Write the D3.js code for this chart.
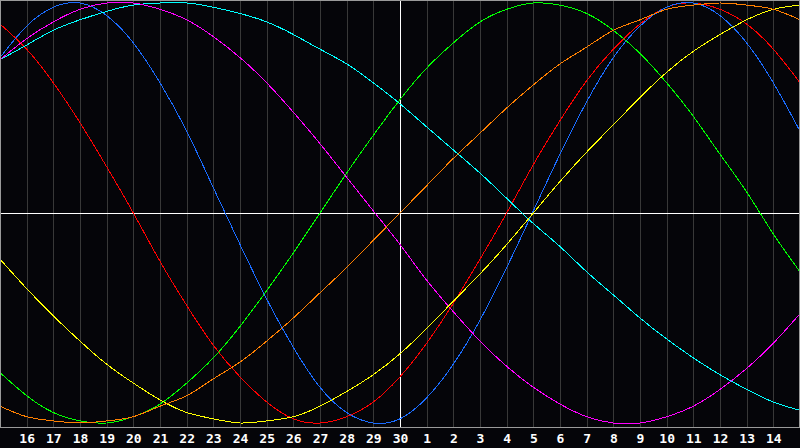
<!DOCTYPE html>
<html>
<head>
<meta charset="utf-8">
<script src="https://cdn.jsdelivr.net/npm/d3@7"></script>
<style>
  html, body { margin: 0; padding: 0; background: #050509; }
  svg { display: block; }
</style>
</head>
<body>
<svg id="chart" width="800" height="448"></svg>
<script>
// day labels under the grid (15th of each month sits on the frame edges)
const dayLabels = ['16','17','18','19','20','21','22','23','24','25','26','27','28','29','30',
                   '1','2','3','4','5','6','7','8','9','10','11','12','13','14'];

// one value per day, from day 15 (index 0) to day 15 next month (index 30)
const physical = [74,89,98,100,94,81,62,39,12,-15,-41,-64,-83,-95,-100,-98,-88,-72,-51,-26,1,28,53,74,89,98,100,94,81,62,39];
const emotional = [90,78,62,43,22,0,-23,-44,-63,-78,-90,-98,-100,-97,-90,-78,-62,-43,-22,0,23,44,63,78,90,98,100,97,90,78,62];
const intellectual = [-76,-87,-95,-99,-100,-97,-91,-81,-69,-54,-37,-19,0,19,37,54,69,81,91,97,100,99,95,87,76,62,46,28,10,-10,-28];
const intuitive = [73,83,91,97,100,100,97,92,84,74,62,48,33,17,1,-15,-32,-47,-61,-73,-83,-91,-97,-100,-100,-97,-92,-84,-74,-62,-48];
const aesthetic = [-22,-36,-49,-61,-72,-81,-89,-95,-98,-100,-99,-97,-92,-85,-77,-67,-55,-42,-29,-15,0,15,29,42,55,67,77,85,92,97,99];
const awareness = [-92,-97,-99,-100,-99,-97,-92,-87,-79,-71,-61,-50,-38,-26,-13,0,13,26,38,50,61,71,79,87,92,97,99,100,99,97,92];
const spiritual = [73,80,87,92,96,99,100,100,98,95,91,85,78,71,62,52,41,30,19,7,-5,-16,-28,-39,-50,-60,-69,-77,-84,-90,-94];

const series = [
  { name: 'emotional', values: emotional, color: '#ff0000' },
  { name: 'intellectual', values: intellectual, color: '#00ff00' },
  { name: 'physical', values: physical, color: '#1a6cff' },
  { name: 'spiritual', values: spiritual, color: '#00ffff' },
  { name: 'intuitive', values: intuitive, color: '#ff00ff' },
  { name: 'aesthetic', values: aesthetic, color: '#ffff00' },
  { name: 'awareness', values: awareness, color: '#ff8000' }
];

const W = 800, plotH = 427;
const svg = d3.select('#chart');

const x = d3.scaleLinear().domain([0, 30]).range([0, W]);
const y = d3.scaleLinear().domain([-100, 100]).range([423, 3]);

svg.append('rect')
  .attr('width', W).attr('height', 448)
  .attr('fill', '#050509');

// vertical day grid
const dayIdx = d3.range(1, 30);
svg.append('g')
  .selectAll('line')
  .data(dayIdx.filter(d => d !== 15))
  .join('line')
  .attr('x1', d => Math.round(x(d)) + 0.5)
  .attr('x2', d => Math.round(x(d)) + 0.5)
  .attr('y1', 0)
  .attr('y2', plotH)
  .attr('stroke', '#383838')
  .attr('stroke-width', 1);

// centre cross
svg.append('line')
  .attr('x1', 0).attr('x2', W)
  .attr('y1', Math.round(y(0)) + 0.5).attr('y2', Math.round(y(0)) + 0.5)
  .attr('stroke', '#ffffff');
svg.append('line')
  .attr('x1', x(15) + 0.5).attr('x2', x(15) + 0.5)
  .attr('y1', 0).attr('y2', plotH)
  .attr('stroke', '#ffffff');

// cycles
const line = d3.line()
  .x((d, i) => x(i))
  .y(d => y(d))
  .curve(d3.curveNatural);

svg.append('g')
  .selectAll('path')
  .data(series)
  .join('path')
  .attr('d', d => line(d.values))
  .attr('fill', 'none')
  .attr('stroke', d => d.color)
  .attr('stroke-width', 1)
  .attr('shape-rendering', 'crispEdges');

// frame
svg.append('rect')
  .attr('x', 0.5).attr('y', 0.5)
  .attr('width', W - 1).attr('height', plotH)
  .attr('fill', 'none')
  .attr('stroke', '#9a9a9a')
  .attr('stroke-width', 1);

// day labels
const axis = d3.axisBottom(x)
  .tickValues(dayIdx)
  .tickFormat(d => dayLabels[d - 1])
  .tickSize(0)
  .tickPadding(0);

const gx = svg.append('g')
  .attr('transform', `translate(0,${plotH})`)
  .call(axis);
gx.select('.domain').remove();
gx.selectAll('text')
  .attr('y', 16)
  .attr('dy', 0)
  .attr('fill', '#ffffff')
  .style('font-family', '"DejaVu Sans Mono", monospace')
  .style('font-weight', 'bold')
  .style('font-size', '13px');
</script>
</body>
</html>
